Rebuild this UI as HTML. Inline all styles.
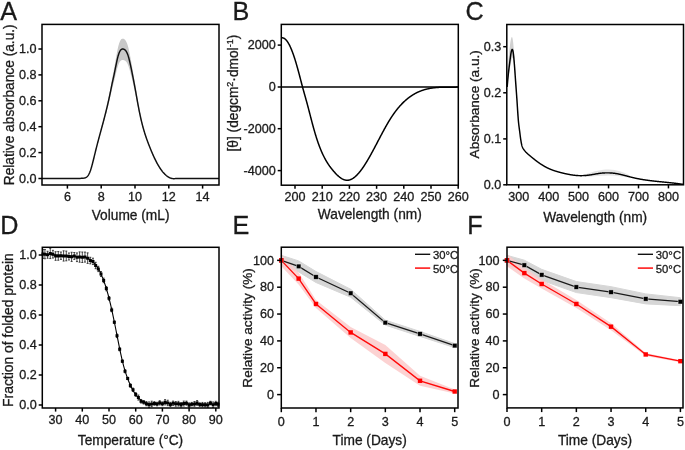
<!DOCTYPE html>
<html><head><meta charset="utf-8"><title>Figure</title>
<style>html,body{margin:0;padding:0;background:#fff;}svg{display:block;will-change:transform;}text{font-family:"Liberation Sans",sans-serif;stroke:#1a1a1a;stroke-width:0.3px;}</style>
</head><body>
<svg width="685" height="450" viewBox="0 0 685 450" font-family="Liberation Sans, sans-serif" fill="#1a1a1a"><text x="0.2" y="19.6" font-size="25.2">A</text>
<path d="M42,178.5 L80,178.53 L80.25,178.46 L80.5,178.39 L80.75,178.34 L81,178.3 L81.25,178.27 L81.5,178.25 L81.75,178.23 L82,178.21 L82.25,178.2 L82.5,178.2 L82.75,178.19 L83,178.18 L83.25,178.17 L83.5,178.15 L83.75,178.13 L84,178.1 L84.25,178.07 L84.5,178.02 L84.75,177.96 L85,177.89 L85.25,177.81 L85.5,177.71 L85.75,177.59 L86,177.45 L86.25,177.3 L86.5,177.12 L86.75,176.92 L87,176.69 L87.25,176.44 L87.5,176.16 L87.75,175.86 L88,175.52 L88.25,175.15 L88.5,174.75 L88.75,174.31 L89,173.84 L89.25,173.33 L89.5,172.78 L89.75,172.19 L90,171.55 L90.25,170.88 L90.5,170.16 L90.75,169.4 L91,168.59 L91.25,167.75 L91.5,166.88 L91.75,165.97 L92,165.04 L92.25,164.08 L92.5,163.1 L92.75,162.09 L93,161.07 L93.25,160.03 L93.5,158.99 L93.75,157.93 L94,156.87 L94.25,155.8 L94.5,154.73 L94.75,153.67 L95,152.61 L95.25,151.56 L95.5,150.51 L95.75,149.48 L96,148.45 L96.25,147.43 L96.5,146.42 L96.75,145.41 L97,144.41 L97.25,143.42 L97.5,142.43 L97.75,141.45 L98,140.47 L98.25,139.49 L98.5,138.52 L98.75,137.56 L99,136.59 L99.25,135.63 L99.5,134.67 L99.75,133.71 L100,132.76 L100.25,131.8 L100.5,130.85 L100.75,129.89 L101,128.93 L101.25,127.98 L101.5,127.02 L101.75,126.06 L102,125.1 L102.25,124.13 L102.5,123.16 L102.75,122.19 L103,121.21 L103.25,120.23 L103.5,119.25 L103.75,118.26 L104,117.26 L104.25,116.26 L104.5,115.25 L104.75,114.23 L105,113.2 L105.25,112.17 L105.5,111.12 L105.75,110.07 L106,109.01 L106.25,107.93 L106.5,106.85 L106.75,105.75 L107,104.64 L107.25,103.51 L107.5,102.37 L107.75,101.22 L108,100.05 L108.25,98.87 L108.5,97.67 L108.75,96.45 L109,95.21 L109.25,93.96 L109.5,92.69 L109.75,91.4 L110,90.08 L110.25,88.75 L110.5,87.4 L110.75,86.03 L111,84.65 L111.25,83.27 L111.5,81.9 L111.75,80.54 L112,79.19 L112.25,77.88 L112.5,76.58 L112.75,75.31 L113,74.04 L113.25,72.77 L113.5,71.5 L113.75,70.22 L114,68.92 L114.25,67.59 L114.5,66.23 L114.75,64.84 L115,63.44 L115.25,62.02 L115.5,60.6 L115.75,59.18 L116,57.77 L116.25,56.37 L116.5,54.99 L116.75,53.65 L117,52.34 L117.25,51.07 L117.5,49.85 L117.75,48.69 L118,47.6 L118.25,46.56 L118.5,45.6 L118.75,44.7 L119,43.86 L119.25,43.1 L119.5,42.4 L119.75,41.77 L120,41.21 L120.25,40.71 L120.5,40.28 L120.75,39.91 L121,39.59 L121.25,39.33 L121.5,39.12 L121.75,38.95 L122,38.83 L122.25,38.74 L122.5,38.69 L122.75,38.67 L123,38.68 L123.25,38.72 L123.5,38.78 L123.75,38.87 L124,38.98 L124.25,39.13 L124.5,39.31 L124.75,39.52 L125,39.77 L125.25,40.06 L125.5,40.39 L125.75,40.76 L126,41.18 L126.25,41.65 L126.5,42.16 L126.75,42.72 L127,43.34 L127.25,44.01 L127.5,44.74 L127.75,45.53 L128,46.38 L128.25,47.28 L128.5,48.26 L128.75,49.29 L129,50.38 L129.25,51.52 L129.5,52.71 L129.75,53.94 L130,55.2 L130.25,56.49 L130.5,57.81 L130.75,59.14 L131,60.48 L131.25,61.84 L131.5,63.22 L131.75,64.6 L132,66 L132.25,67.4 L132.5,68.82 L132.75,70.24 L133,71.68 L133.25,73.12 L133.5,74.57 L133.75,76.02 L134,77.48 L134.25,78.94 L134.5,80.41 L134.75,81.88 L135,83.36 L135.25,84.85 L135.5,86.35 L135.75,87.86 L136,89.38 L136.25,90.92 L136.5,92.45 L136.75,93.99 L137,95.52 L137.25,97.03 L137.5,98.53 L137.75,100.01 L138,101.47 L138.25,102.91 L138.5,104.33 L138.75,105.72 L139,107.09 L139.25,108.44 L139.5,109.76 L139.75,111.06 L140,112.33 L140.25,113.58 L140.5,114.8 L140.75,115.99 L141,117.15 L141.25,118.29 L141.5,119.4 L141.75,120.49 L142,121.55 L142.25,122.59 L142.5,123.6 L142.75,124.59 L143,125.56 L143.25,126.51 L143.5,127.44 L143.75,128.35 L144,129.24 L144.25,130.11 L144.5,130.97 L144.75,131.81 L145,132.63 L145.25,133.44 L145.5,134.23 L145.75,135.01 L146,135.78 L146.25,136.53 L146.5,137.28 L146.75,138.01 L147,138.73 L147.25,139.44 L147.5,140.15 L147.75,140.84 L148,141.53 L148.25,142.21 L148.5,142.89 L148.75,143.56 L149,144.23 L149.25,144.89 L149.5,145.54 L149.75,146.2 L150,146.84 L150.25,147.48 L150.5,148.12 L150.75,148.75 L151,149.38 L151.25,150 L151.5,150.61 L151.75,151.22 L152,151.83 L152.25,152.42 L152.5,153.02 L152.75,153.6 L153,154.19 L153.25,154.76 L153.5,155.33 L153.75,155.89 L154,156.45 L154.25,157 L154.5,157.55 L154.75,158.09 L155,158.62 L155.25,159.15 L155.5,159.66 L155.75,160.18 L156,160.68 L156.25,161.18 L156.5,161.67 L156.75,162.16 L157,162.64 L157.25,163.11 L157.5,163.57 L157.75,164.03 L158,164.48 L158.25,164.93 L158.5,165.36 L158.75,165.79 L159,166.21 L159.25,166.63 L159.5,167.04 L159.75,167.44 L160,167.83 L160.25,168.22 L160.5,168.6 L160.75,168.97 L161,169.34 L161.25,169.7 L161.5,170.05 L161.75,170.4 L162,170.74 L162.25,171.07 L162.5,171.39 L162.75,171.71 L163,172.02 L163.25,172.32 L163.5,172.62 L163.75,172.91 L164,173.19 L164.25,173.47 L164.5,173.73 L164.75,173.99 L165,174.25 L165.25,174.5 L165.5,174.74 L165.75,174.97 L166,175.19 L166.25,175.41 L166.5,175.62 L166.75,175.83 L167,176.03 L167.25,176.22 L167.5,176.4 L167.75,176.58 L168,176.75 L168.25,176.91 L168.5,177.07 L168.75,177.21 L169,177.35 L169.25,177.49 L169.5,177.62 L169.75,177.74 L170,177.85 L170.25,177.96 L170.5,178.05 L170.75,178.15 L171,178.23 L171.25,178.31 L171.5,178.38 L171.75,178.44 L172,178.5 L172.25,178.55 L172.5,178.59 L172.75,178.63 L173,178.65 L173.25,178.68 L173.5,178.69 L173.75,178.7 L174,178.7 L174.25,178.69 L174.5,178.68 L174.75,178.65 L175,178.63 L175.25,178.59 L175.5,178.55 L175.75,178.5 L176,178.44 L219,178.5 L219,178.5 L176,178.44 L175.75,178.5 L175.5,178.54 L175.25,178.58 L175,178.62 L174.75,178.65 L174.5,178.67 L174.25,178.68 L174,178.69 L173.75,178.69 L173.5,178.68 L173.25,178.67 L173,178.65 L172.75,178.62 L172.5,178.59 L172.25,178.55 L172,178.5 L171.75,178.45 L171.5,178.39 L171.25,178.32 L171,178.25 L170.75,178.17 L170.5,178.08 L170.25,177.99 L170,177.89 L169.75,177.78 L169.5,177.67 L169.25,177.55 L169,177.42 L168.75,177.29 L168.5,177.15 L168.25,177 L168,176.85 L167.75,176.69 L167.5,176.52 L167.25,176.35 L167,176.17 L166.75,175.98 L166.5,175.79 L166.25,175.59 L166,175.38 L165.75,175.17 L165.5,174.95 L165.25,174.72 L165,174.49 L164.75,174.25 L164.5,174 L164.25,173.75 L164,173.49 L163.75,173.22 L163.5,172.95 L163.25,172.67 L163,172.38 L162.75,172.09 L162.5,171.79 L162.25,171.49 L162,171.17 L161.75,170.85 L161.5,170.53 L161.25,170.19 L161,169.86 L160.75,169.51 L160.5,169.16 L160.25,168.8 L160,168.43 L159.75,168.06 L159.5,167.68 L159.25,167.3 L159,166.9 L158.75,166.51 L158.5,166.1 L158.25,165.69 L158,165.27 L157.75,164.85 L157.5,164.41 L157.25,163.98 L157,163.53 L156.75,163.08 L156.5,162.62 L156.25,162.16 L156,161.69 L155.75,161.21 L155.5,160.73 L155.25,160.24 L155,159.74 L154.75,159.24 L154.5,158.73 L154.25,158.22 L154,157.7 L153.75,157.17 L153.5,156.64 L153.25,156.1 L153,155.56 L152.75,155.01 L152.5,154.46 L152.25,153.9 L152,153.34 L151.75,152.77 L151.5,152.2 L151.25,151.62 L151,151.04 L150.75,150.45 L150.5,149.86 L150.25,149.26 L150,148.66 L149.75,148.05 L149.5,147.44 L149.25,146.83 L149,146.21 L148.75,145.58 L148.5,144.96 L148.25,144.33 L148,143.69 L147.75,143.05 L147.5,142.4 L147.25,141.75 L147,141.08 L146.75,140.41 L146.5,139.73 L146.25,139.05 L146,138.35 L145.75,137.64 L145.5,136.92 L145.25,136.19 L145,135.45 L144.75,134.69 L144.5,133.92 L144.25,133.14 L144,132.34 L143.75,131.53 L143.5,130.7 L143.25,129.86 L143,129 L142.75,128.12 L142.5,127.23 L142.25,126.31 L142,125.38 L141.75,124.43 L141.5,123.46 L141.25,122.47 L141,121.46 L140.75,120.42 L140.5,119.37 L140.25,118.29 L140,117.19 L139.75,116.07 L139.5,114.94 L139.25,113.78 L139,112.61 L138.75,111.42 L138.5,110.21 L138.25,108.99 L138,107.76 L137.75,106.51 L137.5,105.25 L137.25,103.98 L137,102.7 L136.75,101.41 L136.5,100.12 L136.25,98.84 L136,97.57 L135.75,96.32 L135.5,95.08 L135.25,93.86 L135,92.65 L134.75,91.46 L134.5,90.28 L134.25,89.12 L134,87.96 L133.75,86.81 L133.5,85.68 L133.25,84.55 L133,83.44 L132.75,82.34 L132.5,81.25 L132.25,80.17 L132,79.11 L131.75,78.06 L131.5,77.02 L131.25,76 L131,74.99 L130.75,74 L130.5,73.02 L130.25,72.06 L130,71.12 L129.75,70.2 L129.5,69.32 L129.25,68.47 L129,67.66 L128.75,66.89 L128.5,66.17 L128.25,65.5 L128,64.88 L127.75,64.31 L127.5,63.78 L127.25,63.31 L127,62.87 L126.75,62.48 L126.5,62.12 L126.25,61.8 L126,61.52 L125.75,61.27 L125.5,61.04 L125.25,60.85 L125,60.68 L124.75,60.54 L124.5,60.42 L124.25,60.32 L124,60.23 L123.75,60.17 L123.5,60.11 L123.25,60.07 L123,60.04 L122.75,60.03 L122.5,60.02 L122.25,60.04 L122,60.07 L121.75,60.13 L121.5,60.21 L121.25,60.32 L121,60.47 L120.75,60.65 L120.5,60.88 L120.25,61.14 L120,61.45 L119.75,61.81 L119.5,62.23 L119.25,62.69 L119,63.21 L118.75,63.78 L118.5,64.4 L118.25,65.07 L118,65.8 L117.75,66.58 L117.5,67.41 L117.25,68.29 L117,69.21 L116.75,70.17 L116.5,71.16 L116.25,72.17 L116,73.2 L115.75,74.25 L115.5,75.31 L115.25,76.38 L115,77.44 L114.75,78.49 L114.5,79.53 L114.25,80.55 L114,81.55 L113.75,82.53 L113.5,83.49 L113.25,84.45 L113,85.41 L112.75,86.37 L112.5,87.35 L112.25,88.35 L112,89.37 L111.75,90.43 L111.5,91.51 L111.25,92.6 L111,93.71 L110.75,94.82 L110.5,95.92 L110.25,97.02 L110,98.11 L109.75,99.18 L109.5,100.24 L109.25,101.3 L109,102.33 L108.75,103.36 L108.5,104.38 L108.25,105.39 L108,106.38 L107.75,107.37 L107.5,108.35 L107.25,109.32 L107,110.28 L106.75,111.24 L106.5,112.19 L106.25,113.13 L106,114.06 L105.75,114.99 L105.5,115.91 L105.25,116.83 L105,117.74 L104.75,118.65 L104.5,119.55 L104.25,120.45 L104,121.35 L103.75,122.24 L103.5,123.13 L103.25,124.02 L103,124.91 L102.75,125.79 L102.5,126.68 L102.25,127.56 L102,128.44 L101.75,129.32 L101.5,130.2 L101.25,131.08 L101,131.96 L100.75,132.85 L100.5,133.73 L100.25,134.61 L100,135.5 L99.75,136.39 L99.5,137.28 L99.25,138.17 L99,139.06 L98.75,139.96 L98.5,140.87 L98.25,141.77 L98,142.68 L97.75,143.6 L97.5,144.52 L97.25,145.45 L97,146.38 L96.75,147.32 L96.5,148.26 L96.25,149.21 L96,150.17 L95.75,151.14 L95.5,152.11 L95.25,153.09 L95,154.08 L94.75,155.08 L94.5,156.08 L94.25,157.09 L94,158.09 L93.75,159.09 L93.5,160.09 L93.25,161.08 L93,162.06 L92.75,163.02 L92.5,163.97 L92.25,164.89 L92,165.8 L91.75,166.68 L91.5,167.54 L91.25,168.36 L91,169.15 L90.75,169.91 L90.5,170.63 L90.25,171.31 L90,171.95 L89.75,172.54 L89.5,173.1 L89.25,173.62 L89,174.1 L88.75,174.55 L88.5,174.96 L88.25,175.34 L88,175.69 L87.75,176 L87.5,176.29 L87.25,176.56 L87,176.79 L86.75,177.01 L86.5,177.2 L86.25,177.36 L86,177.51 L85.75,177.64 L85.5,177.75 L85.25,177.85 L85,177.93 L84.75,177.99 L84.5,178.05 L84.25,178.09 L84,178.12 L83.75,178.15 L83.5,178.17 L83.25,178.19 L83,178.2 L82.75,178.21 L82.5,178.21 L82.25,178.22 L82,178.23 L81.75,178.24 L81.5,178.26 L81.25,178.28 L81,178.31 L80.75,178.35 L80.5,178.4 L80.25,178.46 L80,178.53 L42,178.5 Z" fill="#c8c8c8" stroke="none"/>
<path d="M42,178.5 L80,178.53 L80.25,178.46 L80.5,178.4 L80.75,178.35 L81,178.31 L81.25,178.28 L81.5,178.25 L81.75,178.23 L82,178.22 L82.25,178.21 L82.5,178.2 L82.75,178.2 L83,178.19 L83.25,178.18 L83.5,178.16 L83.75,178.14 L84,178.11 L84.25,178.08 L84.5,178.03 L84.75,177.98 L85,177.91 L85.25,177.83 L85.5,177.73 L85.75,177.61 L86,177.48 L86.25,177.33 L86.5,177.16 L86.75,176.96 L87,176.74 L87.25,176.5 L87.5,176.23 L87.75,175.93 L88,175.6 L88.25,175.24 L88.5,174.85 L88.75,174.42 L89,173.96 L89.25,173.47 L89.5,172.93 L89.75,172.36 L90,171.74 L90.25,171.09 L90.5,170.39 L90.75,169.65 L91,168.86 L91.25,168.05 L91.5,167.2 L91.75,166.32 L92,165.41 L92.25,164.47 L92.5,163.52 L92.75,162.54 L93,161.55 L93.25,160.54 L93.5,159.52 L93.75,158.49 L94,157.46 L94.25,156.42 L94.5,155.39 L94.75,154.35 L95,153.32 L95.25,152.3 L95.5,151.29 L95.75,150.28 L96,149.28 L96.25,148.29 L96.5,147.31 L96.75,146.34 L97,145.37 L97.25,144.4 L97.5,143.44 L97.75,142.49 L98,141.54 L98.25,140.6 L98.5,139.66 L98.75,138.72 L99,137.79 L99.25,136.86 L99.5,135.93 L99.75,135.01 L100,134.09 L100.25,133.16 L100.5,132.24 L100.75,131.32 L101,130.4 L101.25,129.48 L101.5,128.56 L101.75,127.64 L102,126.72 L102.25,125.79 L102.5,124.87 L102.75,123.94 L103,123.01 L103.25,122.07 L103.5,121.13 L103.75,120.19 L104,119.24 L104.25,118.29 L104.5,117.33 L104.75,116.37 L105,115.4 L105.25,114.43 L105.5,113.45 L105.75,112.46 L106,111.46 L106.25,110.45 L106.5,109.44 L106.75,108.41 L107,107.37 L107.25,106.33 L107.5,105.27 L107.75,104.2 L108,103.12 L108.25,102.03 L108.5,100.92 L108.75,99.8 L109,98.67 L109.25,97.52 L109.5,96.35 L109.75,95.17 L110,93.98 L110.25,92.76 L110.5,91.53 L110.75,90.29 L111,89.04 L111.25,87.8 L111.5,86.56 L111.75,85.33 L112,84.13 L112.25,82.95 L112.5,81.8 L112.75,80.67 L113,79.55 L113.25,78.43 L113.5,77.32 L113.75,76.19 L114,75.04 L114.25,73.87 L114.5,72.68 L114.75,71.46 L115,70.22 L115.25,68.98 L115.5,67.73 L115.75,66.49 L116,65.25 L116.25,64.03 L116.5,62.83 L116.75,61.66 L117,60.52 L117.25,59.42 L117.5,58.37 L117.75,57.36 L118,56.42 L118.25,55.54 L118.5,54.71 L118.75,53.95 L119,53.24 L119.25,52.6 L119.5,52.01 L119.75,51.49 L120,51.02 L120.25,50.62 L120.5,50.26 L120.75,49.97 L121,49.71 L121.25,49.51 L121.5,49.34 L121.75,49.22 L122,49.13 L122.25,49.07 L122.5,49.03 L122.75,49.03 L123,49.04 L123.25,49.07 L123.5,49.12 L123.75,49.19 L124,49.28 L124.25,49.4 L124.5,49.54 L124.75,49.71 L125,49.91 L125.25,50.14 L125.5,50.4 L125.75,50.7 L126,51.04 L126.25,51.42 L126.5,51.84 L126.75,52.3 L127,52.81 L127.25,53.37 L127.5,53.97 L127.75,54.63 L128,55.35 L128.25,56.11 L128.5,56.94 L128.75,57.82 L129,58.76 L129.25,59.74 L129.5,60.76 L129.75,61.82 L130,62.92 L130.25,64.04 L130.5,65.18 L130.75,66.34 L131,67.52 L131.25,68.71 L131.5,69.91 L131.75,71.12 L132,72.35 L132.25,73.59 L132.5,74.85 L132.75,76.11 L133,77.38 L133.25,78.66 L133.5,79.95 L133.75,81.25 L134,82.56 L134.25,83.87 L134.5,85.2 L134.75,86.53 L135,87.87 L135.25,89.22 L135.5,90.58 L135.75,91.96 L136,93.35 L136.25,94.76 L136.5,96.17 L136.75,97.59 L137,99 L137.25,100.4 L137.5,101.79 L137.75,103.16 L138,104.52 L138.25,105.86 L138.5,107.18 L138.75,108.48 L139,109.77 L139.25,111.03 L139.5,112.27 L139.75,113.49 L140,114.69 L140.25,115.86 L140.5,117.01 L140.75,118.14 L141,119.24 L141.25,120.32 L141.5,121.37 L141.75,122.4 L142,123.41 L142.25,124.39 L142.5,125.36 L142.75,126.3 L143,127.23 L143.25,128.14 L143.5,129.02 L143.75,129.89 L144,130.74 L144.25,131.58 L144.5,132.4 L144.75,133.21 L145,134 L145.25,134.77 L145.5,135.54 L145.75,136.29 L146,137.02 L146.25,137.75 L146.5,138.47 L146.75,139.17 L147,139.87 L147.25,140.56 L147.5,141.24 L147.75,141.91 L148,142.58 L148.25,143.24 L148.5,143.89 L148.75,144.54 L149,145.19 L149.25,145.83 L149.5,146.46 L149.75,147.09 L150,147.72 L150.25,148.34 L150.5,148.96 L150.75,149.57 L151,150.18 L151.25,150.78 L151.5,151.38 L151.75,151.97 L152,152.56 L152.25,153.14 L152.5,153.72 L152.75,154.29 L153,154.85 L153.25,155.41 L153.5,155.97 L153.75,156.51 L154,157.06 L154.25,157.59 L154.5,158.12 L154.75,158.65 L155,159.16 L155.25,159.67 L155.5,160.18 L155.75,160.68 L156,161.17 L156.25,161.65 L156.5,162.13 L156.75,162.61 L157,163.07 L157.25,163.53 L157.5,163.98 L157.75,164.43 L158,164.86 L158.25,165.3 L158.5,165.72 L158.75,166.14 L159,166.55 L159.25,166.95 L159.5,167.35 L159.75,167.74 L160,168.12 L160.25,168.5 L160.5,168.87 L160.75,169.23 L161,169.59 L161.25,169.94 L161.5,170.28 L161.75,170.62 L162,170.95 L162.25,171.27 L162.5,171.59 L162.75,171.89 L163,172.2 L163.25,172.49 L163.5,172.78 L163.75,173.06 L164,173.33 L164.25,173.6 L164.5,173.86 L164.75,174.12 L165,174.36 L165.25,174.6 L165.5,174.84 L165.75,175.06 L166,175.28 L166.25,175.5 L166.5,175.7 L166.75,175.9 L167,176.09 L167.25,176.28 L167.5,176.46 L167.75,176.63 L168,176.8 L168.25,176.95 L168.5,177.1 L168.75,177.25 L169,177.39 L169.25,177.52 L169.5,177.64 L169.75,177.76 L170,177.87 L170.25,177.97 L170.5,178.07 L170.75,178.16 L171,178.24 L171.25,178.31 L171.5,178.38 L171.75,178.44 L172,178.5 L172.25,178.55 L172.5,178.59 L172.75,178.62 L173,178.65 L173.25,178.67 L173.5,178.68 L173.75,178.69 L174,178.69 L174.25,178.68 L174.5,178.67 L174.75,178.65 L175,178.62 L175.25,178.59 L175.5,178.55 L175.75,178.5 L176,178.44 L219,178.5" fill="none" stroke="#111" stroke-width="1.45" stroke-linejoin="round"/>
<rect x="42" y="24.4" width="177" height="160.6" fill="none" stroke="#000" stroke-width="1.5"/>
<line x1="38.4" y1="178.5" x2="42" y2="178.5" stroke="#000" stroke-width="1.5"/>
<text x="36.4" y="182.7" text-anchor="end" font-size="12.6">0.0</text>
<line x1="38.4" y1="152.6" x2="42" y2="152.6" stroke="#000" stroke-width="1.5"/>
<text x="36.4" y="156.8" text-anchor="end" font-size="12.6">0.2</text>
<line x1="38.4" y1="126.7" x2="42" y2="126.7" stroke="#000" stroke-width="1.5"/>
<text x="36.4" y="130.9" text-anchor="end" font-size="12.6">0.4</text>
<line x1="38.4" y1="100.8" x2="42" y2="100.8" stroke="#000" stroke-width="1.5"/>
<text x="36.4" y="105" text-anchor="end" font-size="12.6">0.6</text>
<line x1="38.4" y1="74.9" x2="42" y2="74.9" stroke="#000" stroke-width="1.5"/>
<text x="36.4" y="79.1" text-anchor="end" font-size="12.6">0.8</text>
<line x1="38.4" y1="49" x2="42" y2="49" stroke="#000" stroke-width="1.5"/>
<text x="36.4" y="53.2" text-anchor="end" font-size="12.6">1.0</text>
<line x1="67.4" y1="185" x2="67.4" y2="188.6" stroke="#000" stroke-width="1.5"/>
<text x="67.4" y="201.1" text-anchor="middle" font-size="12.6">6</text>
<line x1="101.2" y1="185" x2="101.2" y2="188.6" stroke="#000" stroke-width="1.5"/>
<text x="101.2" y="201.1" text-anchor="middle" font-size="12.6">8</text>
<line x1="135" y1="185" x2="135" y2="188.6" stroke="#000" stroke-width="1.5"/>
<text x="135" y="201.1" text-anchor="middle" font-size="12.6">10</text>
<line x1="168.8" y1="185" x2="168.8" y2="188.6" stroke="#000" stroke-width="1.5"/>
<text x="168.8" y="201.1" text-anchor="middle" font-size="12.6">12</text>
<line x1="202.6" y1="185" x2="202.6" y2="188.6" stroke="#000" stroke-width="1.5"/>
<text x="202.6" y="201.1" text-anchor="middle" font-size="12.6">14</text>
<text x="130.6" y="220.2" text-anchor="middle" font-size="13.72">Volume (mL)</text>
<text transform="translate(13.6,104.8) rotate(-90)" text-anchor="middle" font-size="13.72">Relative absorbance (a.u.)</text>
<text x="232.6" y="19.6" font-size="25.2">B</text>
<line x1="281.3" y1="87.1" x2="458.3" y2="87.1" stroke="#000" stroke-width="1.5"/>
<path d="M281.6,37.9 L281.85,37.86 L282.1,37.84 L282.35,37.84 L282.6,37.86 L282.85,37.89 L283.1,37.95 L283.35,38.02 L283.6,38.11 L283.85,38.22 L284.1,38.35 L284.35,38.49 L284.6,38.65 L284.85,38.83 L285.1,39.03 L285.35,39.25 L285.6,39.48 L285.85,39.73 L286.1,39.99 L286.35,40.28 L286.6,40.58 L286.85,40.89 L287.1,41.23 L287.35,41.57 L287.6,41.94 L287.85,42.32 L288.1,42.72 L288.35,43.13 L288.6,43.56 L288.85,44.01 L289.1,44.47 L289.35,44.94 L289.6,45.43 L289.85,45.94 L290.1,46.46 L290.35,47 L290.6,47.55 L290.85,48.11 L291.1,48.69 L291.35,49.29 L291.6,49.9 L291.85,50.52 L292.1,51.16 L292.35,51.81 L292.6,52.47 L292.85,53.15 L293.1,53.84 L293.35,54.55 L293.6,55.27 L293.85,56 L294.1,56.74 L294.35,57.5 L294.6,58.27 L294.85,59.05 L295.1,59.85 L295.35,60.65 L295.6,61.47 L295.85,62.3 L296.1,63.14 L296.35,63.99 L296.6,64.85 L296.85,65.72 L297.1,66.6 L297.35,67.48 L297.6,68.38 L297.85,69.28 L298.1,70.19 L298.35,71.11 L298.6,72.03 L298.85,72.96 L299.1,73.9 L299.35,74.84 L299.6,75.79 L299.85,76.74 L300.1,77.7 L300.35,78.66 L300.6,79.62 L300.85,80.59 L301.1,81.56 L301.35,82.52 L301.6,83.49 L301.85,84.44 L302.1,85.39 L302.35,86.33 L302.6,87.26 L302.85,88.19 L303.1,89.1 L303.35,90.01 L303.6,90.91 L303.85,91.81 L304.1,92.71 L304.35,93.6 L304.6,94.49 L304.85,95.38 L305.1,96.26 L305.35,97.15 L305.6,98.04 L305.85,98.94 L306.1,99.83 L306.35,100.73 L306.6,101.64 L306.85,102.55 L307.1,103.47 L307.35,104.39 L307.6,105.32 L307.85,106.26 L308.1,107.21 L308.35,108.16 L308.6,109.11 L308.85,110.07 L309.1,111.03 L309.35,112 L309.6,112.96 L309.85,113.93 L310.1,114.9 L310.35,115.86 L310.6,116.83 L310.85,117.79 L311.1,118.76 L311.35,119.72 L311.6,120.67 L311.85,121.63 L312.1,122.57 L312.35,123.52 L312.6,124.45 L312.85,125.38 L313.1,126.3 L313.35,127.21 L313.6,128.12 L313.85,129.01 L314.1,129.9 L314.35,130.77 L314.6,131.64 L314.85,132.49 L315.1,133.34 L315.35,134.17 L315.6,135 L315.85,135.81 L316.1,136.61 L316.35,137.4 L316.6,138.19 L316.85,138.96 L317.1,139.72 L317.35,140.47 L317.6,141.22 L317.85,141.95 L318.1,142.67 L318.35,143.38 L318.6,144.08 L318.85,144.77 L319.1,145.45 L319.35,146.12 L319.6,146.78 L319.85,147.43 L320.1,148.07 L320.35,148.7 L320.6,149.32 L320.85,149.93 L321.1,150.53 L321.35,151.12 L321.6,151.7 L321.85,152.28 L322.1,152.84 L322.35,153.39 L322.6,153.94 L322.85,154.47 L323.1,155 L323.35,155.52 L323.6,156.03 L323.85,156.53 L324.1,157.02 L324.35,157.51 L324.6,157.99 L324.85,158.46 L325.1,158.92 L325.35,159.37 L325.6,159.82 L325.85,160.26 L326.1,160.7 L326.35,161.13 L326.6,161.55 L326.85,161.96 L327.1,162.37 L327.35,162.77 L327.6,163.16 L327.85,163.55 L328.1,163.94 L328.35,164.32 L328.6,164.69 L328.85,165.06 L329.1,165.42 L329.35,165.77 L329.6,166.13 L329.85,166.47 L330.1,166.81 L330.35,167.15 L330.6,167.48 L330.85,167.81 L331.1,168.14 L331.35,168.46 L331.6,168.78 L331.85,169.09 L332.1,169.4 L332.35,169.7 L332.6,170.01 L332.85,170.31 L333.1,170.6 L333.35,170.9 L333.6,171.19 L333.85,171.48 L334.1,171.76 L334.35,172.04 L334.6,172.32 L334.85,172.6 L335.1,172.87 L335.35,173.14 L335.6,173.41 L335.85,173.67 L336.1,173.93 L336.35,174.18 L336.6,174.44 L336.85,174.68 L337.1,174.93 L337.35,175.17 L337.6,175.4 L337.85,175.63 L338.1,175.86 L338.35,176.08 L338.6,176.3 L338.85,176.51 L339.1,176.72 L339.35,176.92 L339.6,177.12 L339.85,177.31 L340.1,177.5 L340.35,177.68 L340.6,177.86 L340.85,178.03 L341.1,178.2 L341.35,178.36 L341.6,178.51 L341.85,178.66 L342.1,178.8 L342.35,178.94 L342.6,179.07 L342.85,179.2 L343.1,179.32 L343.35,179.43 L343.6,179.53 L343.85,179.63 L344.1,179.72 L344.35,179.81 L344.6,179.89 L344.85,179.96 L345.1,180.03 L345.35,180.08 L345.6,180.13 L345.85,180.18 L346.1,180.21 L346.35,180.24 L346.6,180.26 L346.85,180.27 L347.1,180.28 L347.35,180.28 L347.6,180.27 L347.85,180.25 L348.1,180.22 L348.35,180.19 L348.6,180.15 L348.85,180.1 L349.1,180.05 L349.35,179.99 L349.6,179.92 L349.85,179.84 L350.1,179.76 L350.35,179.67 L350.6,179.57 L350.85,179.47 L351.1,179.36 L351.35,179.24 L351.6,179.12 L351.85,178.99 L352.1,178.85 L352.35,178.71 L352.6,178.56 L352.85,178.41 L353.1,178.25 L353.35,178.08 L353.6,177.9 L353.85,177.72 L354.1,177.54 L354.35,177.34 L354.6,177.15 L354.85,176.94 L355.1,176.73 L355.35,176.52 L355.6,176.3 L355.85,176.07 L356.1,175.84 L356.35,175.6 L356.6,175.36 L356.85,175.11 L357.1,174.85 L357.35,174.6 L357.6,174.33 L357.85,174.06 L358.1,173.79 L358.35,173.51 L358.6,173.23 L358.85,172.94 L359.1,172.64 L359.35,172.34 L359.6,172.04 L359.85,171.73 L360.1,171.42 L360.35,171.1 L360.6,170.78 L360.85,170.46 L361.1,170.13 L361.35,169.79 L361.6,169.45 L361.85,169.11 L362.1,168.77 L362.35,168.41 L362.6,168.06 L362.85,167.7 L363.1,167.34 L363.35,166.97 L363.6,166.6 L363.85,166.23 L364.1,165.85 L364.35,165.47 L364.6,165.09 L364.85,164.7 L365.1,164.31 L365.35,163.92 L365.6,163.52 L365.85,163.12 L366.1,162.72 L366.35,162.31 L366.6,161.9 L366.85,161.49 L367.1,161.07 L367.35,160.65 L367.6,160.23 L367.85,159.81 L368.1,159.38 L368.35,158.96 L368.6,158.52 L368.85,158.09 L369.1,157.65 L369.35,157.22 L369.6,156.78 L369.85,156.33 L370.1,155.89 L370.35,155.44 L370.6,154.99 L370.85,154.54 L371.1,154.09 L371.35,153.64 L371.6,153.18 L371.85,152.72 L372.1,152.26 L372.35,151.8 L372.6,151.34 L372.85,150.88 L373.1,150.41 L373.35,149.95 L373.6,149.48 L373.85,149.01 L374.1,148.54 L374.35,148.07 L374.6,147.6 L374.85,147.13 L375.1,146.66 L375.35,146.18 L375.6,145.71 L375.85,145.23 L376.1,144.76 L376.35,144.28 L376.6,143.8 L376.85,143.33 L377.1,142.85 L377.35,142.37 L377.6,141.9 L377.85,141.42 L378.1,140.94 L378.35,140.46 L378.6,139.99 L378.85,139.51 L379.1,139.03 L379.35,138.56 L379.6,138.08 L379.85,137.6 L380.1,137.13 L380.35,136.65 L380.6,136.18 L380.85,135.71 L381.1,135.23 L381.35,134.76 L381.6,134.29 L381.85,133.82 L382.1,133.35 L382.35,132.88 L382.6,132.42 L382.85,131.95 L383.1,131.49 L383.35,131.03 L383.6,130.56 L383.85,130.1 L384.1,129.65 L384.35,129.19 L384.6,128.73 L384.85,128.28 L385.1,127.83 L385.35,127.38 L385.6,126.93 L385.85,126.49 L386.1,126.04 L386.35,125.6 L386.6,125.16 L386.85,124.72 L387.1,124.29 L387.35,123.86 L387.6,123.43 L387.85,123 L388.1,122.57 L388.35,122.15 L388.6,121.73 L388.85,121.32 L389.1,120.9 L389.35,120.49 L389.6,120.08 L389.85,119.68 L390.1,119.28 L390.35,118.88 L390.6,118.48 L390.85,118.09 L391.1,117.7 L391.35,117.32 L391.6,116.93 L391.85,116.55 L392.1,116.18 L392.35,115.81 L392.6,115.44 L392.85,115.07 L393.1,114.71 L393.35,114.35 L393.6,113.99 L393.85,113.64 L394.1,113.29 L394.35,112.94 L394.6,112.6 L394.85,112.25 L395.1,111.92 L395.35,111.58 L395.6,111.25 L395.85,110.92 L396.1,110.59 L396.35,110.27 L396.6,109.95 L396.85,109.63 L397.1,109.32 L397.35,109.01 L397.6,108.7 L397.85,108.39 L398.1,108.09 L398.35,107.79 L398.6,107.5 L398.85,107.2 L399.1,106.91 L399.35,106.62 L399.6,106.34 L399.85,106.06 L400.1,105.78 L400.35,105.5 L400.6,105.22 L400.85,104.95 L401.1,104.68 L401.35,104.42 L401.6,104.15 L401.85,103.89 L402.1,103.64 L402.35,103.38 L402.6,103.13 L402.85,102.88 L403.1,102.63 L403.35,102.39 L403.6,102.14 L403.85,101.9 L404.1,101.67 L404.35,101.43 L404.6,101.2 L404.85,100.97 L405.1,100.74 L405.35,100.52 L405.6,100.3 L405.85,100.08 L406.1,99.86 L406.35,99.65 L406.6,99.44 L406.85,99.23 L407.1,99.02 L407.35,98.81 L407.6,98.61 L407.85,98.41 L408.1,98.21 L408.35,98.02 L408.6,97.82 L408.85,97.63 L409.1,97.44 L409.35,97.26 L409.6,97.07 L409.85,96.89 L410.1,96.71 L410.35,96.54 L410.6,96.36 L410.85,96.19 L411.1,96.02 L411.35,95.85 L411.6,95.68 L411.85,95.52 L412.1,95.36 L412.35,95.2 L412.6,95.04 L412.85,94.88 L413.1,94.73 L413.35,94.58 L413.6,94.43 L413.85,94.28 L414.1,94.13 L414.35,93.99 L414.6,93.85 L414.85,93.71 L415.1,93.57 L415.35,93.43 L415.6,93.3 L415.85,93.17 L416.1,93.04 L416.35,92.91 L416.6,92.78 L416.85,92.66 L417.1,92.54 L417.35,92.42 L417.6,92.3 L417.85,92.18 L418.1,92.06 L418.35,91.95 L418.6,91.84 L418.85,91.73 L419.1,91.62 L419.35,91.51 L419.6,91.41 L419.85,91.31 L420.1,91.2 L420.35,91.1 L420.6,91.01 L420.85,90.91 L421.1,90.82 L421.35,90.72 L421.6,90.63 L421.85,90.54 L422.1,90.45 L422.35,90.36 L422.6,90.28 L422.85,90.2 L423.1,90.11 L423.35,90.03 L423.6,89.95 L423.85,89.87 L424.1,89.8 L424.35,89.72 L424.6,89.65 L424.85,89.58 L425.1,89.51 L425.35,89.44 L425.6,89.37 L425.85,89.3 L426.1,89.24 L426.35,89.17 L426.6,89.11 L426.85,89.05 L427.1,88.99 L427.35,88.93 L427.6,88.87 L427.85,88.82 L428.1,88.76 L428.35,88.71 L428.6,88.66 L428.85,88.6 L429.1,88.55 L429.35,88.51 L429.6,88.46 L429.85,88.41 L430.1,88.37 L430.35,88.32 L430.6,88.28 L430.85,88.24 L431.1,88.19 L431.35,88.15 L431.6,88.11 L431.85,88.08 L432.1,88.04 L432.35,88 L432.6,87.97 L432.85,87.93 L433.1,87.9 L433.35,87.87 L433.6,87.84 L433.85,87.81 L434.1,87.78 L434.35,87.75 L434.6,87.72 L434.85,87.7 L435.1,87.67 L435.35,87.65 L435.6,87.62 L435.85,87.6 L436.1,87.57 L436.35,87.55 L436.6,87.53 L436.85,87.51 L437.1,87.49 L437.35,87.47 L437.6,87.46 L437.85,87.44 L438.1,87.42 L438.35,87.41 L438.6,87.39 L438.85,87.37 L439.1,87.36 L439.35,87.35 L439.6,87.33 L439.85,87.32 L440.1,87.31 L440.35,87.3 L440.6,87.29 L440.85,87.28 L441.1,87.27 L441.35,87.26 L441.6,87.25 L441.85,87.24 L442.1,87.24 L442.35,87.23 L442.6,87.22 L442.85,87.22 L443.1,87.21 L443.35,87.2 L443.6,87.2 L443.85,87.19 L444.1,87.19 L444.35,87.19 L444.6,87.18 L444.85,87.18 L445.1,87.18 L445.35,87.17 L445.6,87.17 L445.85,87.17 L446.1,87.17 L446.35,87.16 L446.6,87.16 L446.85,87.16 L447.1,87.16 L447.35,87.16 L447.6,87.16 L447.85,87.16 L448.1,87.16 L448.35,87.16 L448.6,87.16 L448.85,87.16 L449.1,87.16 L449.35,87.16 L449.6,87.16 L449.85,87.15 L450.1,87.15 L450.35,87.15 L450.6,87.15 L450.85,87.15 L451.1,87.15 L451.35,87.15 L451.6,87.15 L451.85,87.15 L452.1,87.15 L452.35,87.15 L452.6,87.15 L452.85,87.15 L453.1,87.15 L453.35,87.15 L453.6,87.15 L453.85,87.15 L454.1,87.15 L454.35,87.14 L454.6,87.14 L454.85,87.14 L455.1,87.14 L455.35,87.14 L455.6,87.13 L455.85,87.13 L456.1,87.13 L456.35,87.12 L456.6,87.12 L456.85,87.11 L457.1,87.11 L457.35,87.1 L457.6,87.1 L457.85,87.09 L458,87.09" fill="none" stroke="#000" stroke-width="1.5" stroke-linejoin="round"/>
<rect x="281.3" y="24.4" width="177" height="160.8" fill="none" stroke="#000" stroke-width="1.5"/>
<line x1="277.7" y1="45.1" x2="281.3" y2="45.1" stroke="#000" stroke-width="1.5"/>
<text x="275.7" y="49.3" text-anchor="end" font-size="12.6">2000</text>
<line x1="277.7" y1="87" x2="281.3" y2="87" stroke="#000" stroke-width="1.5"/>
<text x="275.7" y="91.2" text-anchor="end" font-size="12.6">0</text>
<line x1="277.7" y1="128.7" x2="281.3" y2="128.7" stroke="#000" stroke-width="1.5"/>
<text x="275.7" y="132.9" text-anchor="end" font-size="12.6">-2000</text>
<line x1="277.7" y1="170.6" x2="281.3" y2="170.6" stroke="#000" stroke-width="1.5"/>
<text x="275.7" y="174.8" text-anchor="end" font-size="12.6">-4000</text>
<line x1="295" y1="185.2" x2="295" y2="188.8" stroke="#000" stroke-width="1.5"/>
<text x="295" y="201.1" text-anchor="middle" font-size="12.6">200</text>
<line x1="322.2" y1="185.2" x2="322.2" y2="188.8" stroke="#000" stroke-width="1.5"/>
<text x="322.2" y="201.1" text-anchor="middle" font-size="12.6">210</text>
<line x1="349.4" y1="185.2" x2="349.4" y2="188.8" stroke="#000" stroke-width="1.5"/>
<text x="349.4" y="201.1" text-anchor="middle" font-size="12.6">220</text>
<line x1="376.6" y1="185.2" x2="376.6" y2="188.8" stroke="#000" stroke-width="1.5"/>
<text x="376.6" y="201.1" text-anchor="middle" font-size="12.6">230</text>
<line x1="403.8" y1="185.2" x2="403.8" y2="188.8" stroke="#000" stroke-width="1.5"/>
<text x="403.8" y="201.1" text-anchor="middle" font-size="12.6">240</text>
<line x1="431" y1="185.2" x2="431" y2="188.8" stroke="#000" stroke-width="1.5"/>
<text x="431" y="201.1" text-anchor="middle" font-size="12.6">250</text>
<line x1="458.2" y1="185.2" x2="458.2" y2="188.8" stroke="#000" stroke-width="1.5"/>
<text x="458.2" y="201.1" text-anchor="middle" font-size="12.6">260</text>
<text x="369.8" y="219.3" text-anchor="middle" font-size="13.72">Wavelength (nm)</text>
<text transform="translate(238.2,93.1) rotate(-90)" text-anchor="middle" font-size="13.72">[θ] (degcm<tspan font-size="9" dy="-5">2</tspan><tspan dy="5">·dmol</tspan><tspan font-size="9" dy="-5">-1</tspan><tspan dy="5">)</tspan></text>
<text x="465.6" y="19.6" font-size="25.2">C</text>
<path d="M507,76 C507.25,73.33 508,65.17 508.5,60 C509,54.83 509.48,48.8 510,45 C510.52,41.2 511.1,37.87 511.6,37.2 C512.1,36.53 512.52,37.53 513,41 C513.48,44.47 514,51.5 514.5,58 C515,64.5 515.5,72.33 516,80 C516.5,87.67 517,97.33 517.5,104 C518,110.67 518.75,117.33 519,120 L519,126 519,126 C518.73,123.33 517.95,118 517.4,110 C516.85,102 516.33,86 515.7,78 C515.07,70 514.2,65.33 513.6,62 C513,58.67 512.7,57 512.1,58 C511.5,59 510.68,64.33 510,68 C509.32,71.67 508.5,77 508,80 C507.5,83 507.17,85 507,86 Z" fill="#d0d0d0" stroke="none"/>
<path d="M585,174.5 C595,171 602,169.5 609,169.6 C617,170 623,172 630,175.5 L630,178 C623,176.5 616,175.5 609,175.6 C601,175.7 594,176.5 585,177 Z" fill="#e4e4e4"/>
<path d="M507.2,86.9 L507.4,84.27 L507.6,81.83 L507.8,79.54 L508,77.4 L508.2,75.38 L508.4,73.48 L508.6,71.67 L508.8,69.94 L509,68.28 L509.2,66.66 L509.4,65.08 L509.6,63.51 L509.8,61.94 L510,60.37 L510.2,58.81 L510.4,57.28 L510.6,55.83 L510.8,54.47 L511,53.23 L511.2,52.15 L511.4,51.23 L511.6,50.48 L511.8,49.93 L512,49.57 L512.2,49.44 L512.4,49.53 L512.6,49.87 L512.8,50.46 L513,51.32 L513.2,52.46 L513.4,53.89 L513.6,55.6 L513.8,57.57 L514,59.76 L514.2,62.13 L514.4,64.66 L514.6,67.32 L514.8,70.06 L515,72.87 L515.2,75.7 L515.4,78.53 L515.6,81.36 L515.8,84.15 L516,86.9 L516.2,89.6 L516.4,92.29 L516.6,95.02 L516.8,97.84 L517,100.8 L517.2,103.87 L517.4,107.01 L517.6,110.12 L517.8,113.15 L518,116.01 L518.2,118.64 L518.4,120.96 L518.6,122.98 L518.8,124.75 L519,126.36 L519.2,127.86 L519.4,129.33 L519.6,130.84 L519.8,132.4 L520,133.98 L520.2,135.55 L520.4,137.09 L520.6,138.55 L520.8,139.91 L521,141.19 L521.2,142.35 L521.4,143.42 L521.6,144.37 L521.8,145.2 L522,145.92 L522.2,146.54 L522.4,147.07 L522.6,147.54 L522.8,147.94 L523,148.3 L523.2,148.63 L523.4,148.95 L523.6,149.25 L523.8,149.54 L524,149.82 L524.2,150.09 L524.4,150.36 L524.6,150.62 L524.8,150.86 L525,151.11 L525.2,151.34 L525.4,151.57 L525.6,151.79 L525.8,152 L526,152.21 L526.2,152.41 L526.4,152.61 L526.6,152.81 L526.8,153 L527,153.19 L527.2,153.37 L527.4,153.55 L527.6,153.73 L527.8,153.91 L528,154.08 L528.2,154.26 L528.4,154.43 L528.6,154.6 L528.8,154.77 L529,154.94 L529.2,155.11 L529.4,155.29 L529.6,155.46 L529.8,155.63 L530,155.79 L530.2,155.96 L530.4,156.13 L530.6,156.3 L530.8,156.47 L531,156.64 L531.2,156.8 L531.4,156.97 L531.6,157.14 L531.8,157.3 L532,157.47 L532.2,157.63 L532.4,157.79 L532.6,157.96 L532.8,158.12 L533,158.28 L533.2,158.45 L533.4,158.61 L533.6,158.77 L533.8,158.93 L534,159.09 L534.2,159.25 L534.4,159.4 L534.6,159.56 L534.8,159.72 L535,159.87 L535.2,160.03 L535.4,160.19 L535.6,160.34 L535.8,160.49 L536,160.65 L536.2,160.8 L536.4,160.95 L536.6,161.1 L536.8,161.25 L537,161.4 L537.2,161.55 L537.4,161.7 L537.6,161.84 L537.8,161.99 L538,162.14 L538.2,162.28 L538.4,162.42 L538.6,162.57 L538.8,162.71 L539,162.85 L539.2,162.99 L539.4,163.13 L539.6,163.27 L539.8,163.41 L540,163.54 L540.2,163.68 L540.4,163.81 L540.6,163.95 L540.8,164.08 L541,164.21 L541.2,164.35 L541.4,164.48 L541.6,164.6 L541.8,164.73 L542,164.86 L542.2,164.99 L542.4,165.11 L542.6,165.24 L542.8,165.36 L543,165.48 L543.2,165.6 L543.4,165.72 L543.6,165.84 L543.8,165.96 L544,166.08 L544.2,166.19 L544.4,166.31 L544.6,166.42 L544.8,166.53 L545,166.64 L545.2,166.75 L545.4,166.86 L545.6,166.97 L545.8,167.08 L546,167.18 L546.2,167.29 L546.4,167.39 L546.6,167.49 L546.8,167.59 L547,167.69 L547.2,167.79 L547.4,167.89 L547.6,167.99 L547.8,168.08 L548,168.18 L548.2,168.27 L548.4,168.36 L548.6,168.45 L548.8,168.54 L549,168.63 L549.2,168.72 L549.4,168.81 L549.6,168.9 L549.8,168.98 L550,169.07 L550.2,169.15 L550.4,169.23 L550.6,169.32 L550.8,169.4 L551,169.48 L551.2,169.56 L551.4,169.64 L551.6,169.71 L551.8,169.79 L552,169.87 L552.2,169.94 L552.4,170.02 L552.6,170.09 L552.8,170.16 L553,170.24 L553.2,170.31 L553.4,170.38 L553.6,170.45 L553.8,170.52 L554,170.59 L554.2,170.65 L554.4,170.72 L554.6,170.79 L554.8,170.85 L555,170.92 L555.2,170.98 L555.4,171.05 L555.6,171.11 L555.8,171.18 L556,171.24 L556.2,171.3 L556.4,171.36 L556.6,171.42 L556.8,171.48 L557,171.54 L557.2,171.6 L557.4,171.66 L557.6,171.72 L557.8,171.77 L558,171.83 L558.2,171.89 L558.4,171.94 L558.6,172 L558.8,172.05 L559,172.11 L559.2,172.16 L559.4,172.22 L559.6,172.27 L559.8,172.32 L560,172.38 L560.2,172.43 L560.4,172.48 L560.6,172.53 L560.8,172.58 L561,172.64 L561.2,172.69 L561.4,172.74 L561.6,172.79 L561.8,172.84 L562,172.89 L562.2,172.94 L562.4,172.99 L562.6,173.04 L562.8,173.08 L563,173.13 L563.2,173.18 L563.4,173.23 L563.6,173.28 L563.8,173.32 L564,173.37 L564.2,173.42 L564.4,173.46 L564.6,173.51 L564.8,173.56 L565,173.6 L565.2,173.65 L565.4,173.69 L565.6,173.74 L565.8,173.78 L566,173.82 L566.2,173.87 L566.4,173.91 L566.6,173.95 L566.8,174 L567,174.04 L567.2,174.08 L567.4,174.12 L567.6,174.16 L567.8,174.2 L568,174.24 L568.2,174.28 L568.4,174.32 L568.6,174.36 L568.8,174.4 L569,174.43 L569.2,174.47 L569.4,174.51 L569.6,174.54 L569.8,174.58 L570,174.62 L570.2,174.65 L570.4,174.69 L570.6,174.72 L570.8,174.75 L571,174.79 L571.2,174.82 L571.4,174.85 L571.6,174.88 L571.8,174.91 L572,174.94 L572.2,174.97 L572.4,175 L572.6,175.03 L572.8,175.06 L573,175.09 L573.2,175.11 L573.4,175.14 L573.6,175.17 L573.8,175.19 L574,175.22 L574.2,175.24 L574.4,175.26 L574.6,175.29 L574.8,175.31 L575,175.33 L575.2,175.35 L575.4,175.37 L575.6,175.39 L575.8,175.41 L576,175.43 L576.2,175.45 L576.4,175.46 L576.6,175.48 L576.8,175.49 L577,175.51 L577.2,175.52 L577.4,175.54 L577.6,175.55 L577.8,175.56 L578,175.57 L578.2,175.59 L578.4,175.6 L578.6,175.6 L578.8,175.61 L579,175.62 L579.2,175.63 L579.4,175.63 L579.6,175.64 L579.8,175.65 L580,175.65 L580.2,175.65 L580.4,175.66 L580.6,175.66 L580.8,175.66 L581,175.66 L581.2,175.66 L581.4,175.66 L581.6,175.65 L581.8,175.65 L582,175.65 L582.2,175.64 L582.4,175.64 L582.6,175.63 L582.8,175.63 L583,175.62 L583.2,175.61 L583.4,175.6 L583.6,175.59 L583.8,175.58 L584,175.57 L584.2,175.56 L584.4,175.55 L584.6,175.53 L584.8,175.52 L585,175.51 L585.2,175.49 L585.4,175.48 L585.6,175.46 L585.8,175.44 L586,175.43 L586.2,175.41 L586.4,175.39 L586.6,175.37 L586.8,175.35 L587,175.33 L587.2,175.31 L587.4,175.29 L587.6,175.26 L587.8,175.24 L588,175.22 L588.2,175.19 L588.4,175.17 L588.6,175.14 L588.8,175.12 L589,175.09 L589.2,175.06 L589.4,175.03 L589.6,175.01 L589.8,174.98 L590,174.95 L590.2,174.92 L590.4,174.89 L590.6,174.86 L590.8,174.83 L591,174.79 L591.2,174.76 L591.4,174.73 L591.6,174.7 L591.8,174.66 L592,174.63 L592.2,174.6 L592.4,174.56 L592.6,174.53 L592.8,174.49 L593,174.46 L593.2,174.42 L593.4,174.39 L593.6,174.35 L593.8,174.32 L594,174.28 L594.2,174.25 L594.4,174.21 L594.6,174.18 L594.8,174.14 L595,174.11 L595.2,174.07 L595.4,174.04 L595.6,174 L595.8,173.97 L596,173.93 L596.2,173.9 L596.4,173.86 L596.6,173.83 L596.8,173.8 L597,173.76 L597.2,173.73 L597.4,173.7 L597.6,173.67 L597.8,173.63 L598,173.6 L598.2,173.57 L598.4,173.54 L598.6,173.51 L598.8,173.48 L599,173.45 L599.2,173.42 L599.4,173.4 L599.6,173.37 L599.8,173.34 L600,173.32 L600.2,173.29 L600.4,173.27 L600.6,173.24 L600.8,173.22 L601,173.2 L601.2,173.18 L601.4,173.15 L601.6,173.13 L601.8,173.11 L602,173.1 L602.2,173.08 L602.4,173.06 L602.6,173.04 L602.8,173.03 L603,173.01 L603.2,173 L603.4,172.98 L603.6,172.97 L603.8,172.96 L604,172.94 L604.2,172.93 L604.4,172.92 L604.6,172.91 L604.8,172.9 L605,172.9 L605.2,172.89 L605.4,172.88 L605.6,172.87 L605.8,172.87 L606,172.86 L606.2,172.86 L606.4,172.86 L606.6,172.85 L606.8,172.85 L607,172.85 L607.2,172.85 L607.4,172.85 L607.6,172.85 L607.8,172.85 L608,172.86 L608.2,172.86 L608.4,172.86 L608.6,172.87 L608.8,172.87 L609,172.88 L609.2,172.88 L609.4,172.89 L609.6,172.9 L609.8,172.91 L610,172.92 L610.2,172.93 L610.4,172.94 L610.6,172.95 L610.8,172.96 L611,172.98 L611.2,172.99 L611.4,173.01 L611.6,173.02 L611.8,173.04 L612,173.05 L612.2,173.07 L612.4,173.09 L612.6,173.11 L612.8,173.13 L613,173.15 L613.2,173.17 L613.4,173.19 L613.6,173.22 L613.8,173.24 L614,173.26 L614.2,173.29 L614.4,173.31 L614.6,173.34 L614.8,173.37 L615,173.4 L615.2,173.42 L615.4,173.45 L615.6,173.48 L615.8,173.51 L616,173.55 L616.2,173.58 L616.4,173.61 L616.6,173.65 L616.8,173.68 L617,173.72 L617.2,173.75 L617.4,173.79 L617.6,173.83 L617.8,173.86 L618,173.9 L618.2,173.94 L618.4,173.98 L618.6,174.02 L618.8,174.06 L619,174.1 L619.2,174.15 L619.4,174.19 L619.6,174.23 L619.8,174.28 L620,174.32 L620.2,174.36 L620.4,174.41 L620.6,174.46 L620.8,174.5 L621,174.55 L621.2,174.59 L621.4,174.64 L621.6,174.69 L621.8,174.74 L622,174.79 L622.2,174.83 L622.4,174.88 L622.6,174.93 L622.8,174.98 L623,175.03 L623.2,175.08 L623.4,175.13 L623.6,175.18 L623.8,175.24 L624,175.29 L624.2,175.34 L624.4,175.39 L624.6,175.44 L624.8,175.49 L625,175.55 L625.2,175.6 L625.4,175.65 L625.6,175.7 L625.8,175.76 L626,175.81 L626.2,175.86 L626.4,175.92 L626.6,175.97 L626.8,176.02 L627,176.08 L627.2,176.13 L627.4,176.18 L627.6,176.24 L627.8,176.29 L628,176.34 L628.2,176.4 L628.4,176.45 L628.6,176.5 L628.8,176.56 L629,176.61 L629.2,176.66 L629.4,176.71 L629.6,176.77 L629.8,176.82 L630,176.87 L630.2,176.92 L630.4,176.97 L630.6,177.03 L630.8,177.08 L631,177.13 L631.2,177.18 L631.4,177.23 L631.6,177.28 L631.8,177.33 L632,177.38 L632.2,177.43 L632.4,177.48 L632.6,177.53 L632.8,177.58 L633,177.62 L633.2,177.67 L633.4,177.72 L633.6,177.77 L633.8,177.81 L634,177.86 L634.2,177.91 L634.4,177.95 L634.6,178 L634.8,178.04 L635,178.09 L635.2,178.13 L635.4,178.17 L635.6,178.22 L635.8,178.26 L636,178.3 L636.2,178.35 L636.4,178.39 L636.6,178.43 L636.8,178.47 L637,178.51 L637.2,178.55 L637.4,178.59 L637.6,178.63 L637.8,178.67 L638,178.71 L638.2,178.75 L638.4,178.79 L638.6,178.83 L638.8,178.87 L639,178.91 L639.2,178.94 L639.4,178.98 L639.6,179.02 L639.8,179.06 L640,179.09 L640.2,179.13 L640.4,179.16 L640.6,179.2 L640.8,179.23 L641,179.27 L641.2,179.3 L641.4,179.34 L641.6,179.37 L641.8,179.41 L642,179.44 L642.2,179.47 L642.4,179.51 L642.6,179.54 L642.8,179.57 L643,179.61 L643.2,179.64 L643.4,179.67 L643.6,179.7 L643.8,179.73 L644,179.76 L644.2,179.8 L644.4,179.83 L644.6,179.86 L644.8,179.89 L645,179.92 L645.2,179.95 L645.4,179.98 L645.6,180.01 L645.8,180.04 L646,180.06 L646.2,180.09 L646.4,180.12 L646.6,180.15 L646.8,180.18 L647,180.21 L647.2,180.23 L647.4,180.26 L647.6,180.29 L647.8,180.32 L648,180.34 L648.2,180.37 L648.4,180.4 L648.6,180.42 L648.8,180.45 L649,180.47 L649.2,180.5 L649.4,180.53 L649.6,180.55 L649.8,180.58 L650,180.6 L650.2,180.63 L650.4,180.65 L650.6,180.68 L650.8,180.7 L651,180.72 L651.2,180.75 L651.4,180.77 L651.6,180.8 L651.8,180.82 L652,180.84 L652.2,180.87 L652.4,180.89 L652.6,180.91 L652.8,180.94 L653,180.96 L653.2,180.98 L653.4,181.01 L653.6,181.03 L653.8,181.05 L654,181.07 L654.2,181.1 L654.4,181.12 L654.6,181.14 L654.8,181.16 L655,181.18 L655.2,181.21 L655.4,181.23 L655.6,181.25 L655.8,181.27 L656,181.29 L656.2,181.31 L656.4,181.33 L656.6,181.35 L656.8,181.38 L657,181.4 L657.2,181.42 L657.4,181.44 L657.6,181.46 L657.8,181.48 L658,181.5 L658.2,181.52 L658.4,181.54 L658.6,181.56 L658.8,181.58 L659,181.6 L659.2,181.62 L659.4,181.64 L659.6,181.66 L659.8,181.68 L660,181.7 L660.2,181.72 L660.4,181.74 L660.6,181.76 L660.8,181.78 L661,181.8 L661.2,181.82 L661.4,181.84 L661.6,181.86 L661.8,181.88 L662,181.9 L662.2,181.92 L662.4,181.94 L662.6,181.96 L662.8,181.98 L663,182 L663.2,182.02 L663.4,182.04 L663.6,182.06 L663.8,182.08 L664,182.1 L664.2,182.12 L664.4,182.13 L664.6,182.15 L664.8,182.17 L665,182.19 L665.2,182.21 L665.4,182.23 L665.6,182.25 L665.8,182.27 L666,182.29 L666.2,182.31 L666.4,182.33 L666.6,182.35 L666.8,182.37 L667,182.39 L667.2,182.41 L667.4,182.43 L667.6,182.45 L667.8,182.47 L668,182.49 L668.2,182.51 L668.4,182.53 L668.6,182.55 L668.8,182.58 L669,182.6 L669.2,182.62 L669.4,182.64 L669.6,182.66 L669.8,182.68 L670,182.7 L670.2,182.72 L670.4,182.74 L670.6,182.76 L670.8,182.79 L671,182.81 L671.2,182.83 L671.4,182.85 L671.6,182.87 L671.8,182.89 L672,182.92 L672.2,182.94 L672.4,182.96 L672.6,182.98 L672.8,183 L673,183.03 L673.2,183.05 L673.4,183.07 L673.6,183.09 L673.8,183.12 L674,183.14 L674.2,183.16 L674.4,183.19 L674.6,183.21 L674.8,183.24 L675,183.26 L675.2,183.28 L675.4,183.31 L675.6,183.33 L675.8,183.36 L676,183.38 L676.2,183.41 L676.4,183.43 L676.6,183.46 L676.8,183.48 L677,183.51 L677.2,183.53 L677.4,183.56 L677.6,183.58 L677.8,183.61 L678,183.64 L678.2,183.66 L678.4,183.69 L678.6,183.72 L678.8,183.74 L679,183.77 L679.2,183.8 L679.4,183.82 L679.6,183.85 L679.8,183.88 L680,183.91 L680.2,183.94 L680.4,183.97 L680.6,183.99 L680.8,184.02 L681,184.05 L681.2,184.08 L681.4,184.11 L681.6,184.14 L681.8,184.17 L682,184.2 L682.2,184.23 L682.4,184.26 L682.6,184.3 L682.8,184.33 L683,184.36 L683,184.36" fill="none" stroke="#000" stroke-width="1.45" stroke-linejoin="round"/>
<rect x="506.8" y="24.5" width="176.7" height="160.3" fill="none" stroke="#000" stroke-width="1.5"/>
<line x1="503.2" y1="184.8" x2="506.8" y2="184.8" stroke="#000" stroke-width="1.5"/>
<text x="501.2" y="189" text-anchor="end" font-size="12.6">0.0</text>
<line x1="503.2" y1="138.9" x2="506.8" y2="138.9" stroke="#000" stroke-width="1.5"/>
<text x="501.2" y="143.1" text-anchor="end" font-size="12.6">0.1</text>
<line x1="503.2" y1="92.8" x2="506.8" y2="92.8" stroke="#000" stroke-width="1.5"/>
<text x="501.2" y="97" text-anchor="end" font-size="12.6">0.2</text>
<line x1="503.2" y1="46.7" x2="506.8" y2="46.7" stroke="#000" stroke-width="1.5"/>
<text x="501.2" y="50.9" text-anchor="end" font-size="12.6">0.3</text>
<line x1="518.7" y1="184.8" x2="518.7" y2="188.4" stroke="#000" stroke-width="1.5"/>
<text x="518.7" y="201.1" text-anchor="middle" font-size="12.6">300</text>
<line x1="548.65" y1="184.8" x2="548.65" y2="188.4" stroke="#000" stroke-width="1.5"/>
<text x="548.65" y="201.1" text-anchor="middle" font-size="12.6">400</text>
<line x1="578.6" y1="184.8" x2="578.6" y2="188.4" stroke="#000" stroke-width="1.5"/>
<text x="578.6" y="201.1" text-anchor="middle" font-size="12.6">500</text>
<line x1="608.55" y1="184.8" x2="608.55" y2="188.4" stroke="#000" stroke-width="1.5"/>
<text x="608.55" y="201.1" text-anchor="middle" font-size="12.6">600</text>
<line x1="638.5" y1="184.8" x2="638.5" y2="188.4" stroke="#000" stroke-width="1.5"/>
<text x="638.5" y="201.1" text-anchor="middle" font-size="12.6">700</text>
<line x1="668.45" y1="184.8" x2="668.45" y2="188.4" stroke="#000" stroke-width="1.5"/>
<text x="668.45" y="201.1" text-anchor="middle" font-size="12.6">800</text>
<text x="595.2" y="222.2" text-anchor="middle" font-size="13.72">Wavelength (nm)</text>
<text transform="translate(479.3,104.3) rotate(-90)" text-anchor="middle" font-size="13.63">Absorbance (a.u.)</text>
<text x="0.2" y="234.2" font-size="25.2">D</text>
<path d="M43,249.42V258.38M42,249.42h2M42,258.38h2 M44.92,249.56V258.75M43.92,249.56h2M43.92,258.75h2 M47.59,251.24V258.25M46.59,251.24h2M46.59,258.25h2 M50.26,248.42V258.56M49.26,248.42h2M49.26,258.56h2 M52.93,250.34V258.04M51.93,250.34h2M51.93,258.04h2 M55.6,251.69V260.34M54.6,251.69h2M54.6,260.34h2 M58.27,251.56V260.24M57.27,251.56h2M57.27,260.24h2 M60.94,252.03V259.39M59.94,252.03h2M59.94,259.39h2 M63.61,250.82V261.09M62.61,250.82h2M62.61,261.09h2 M66.28,251.07V260.82M65.28,251.07h2M65.28,260.82h2 M68.95,252.98V259.99M67.95,252.98h2M67.95,259.99h2 M71.62,252.28V261.43M70.62,252.28h2M70.62,261.43h2 M74.29,252.53V259.41M73.29,252.53h2M73.29,259.41h2 M76.96,252.94V261.61M75.96,252.94h2M75.96,261.61h2 M79.63,251.88V262.19M78.63,251.88h2M78.63,262.19h2 M82.3,252.03V262.51M81.3,252.03h2M81.3,262.51h2 M84.97,252.09V262.09M83.97,252.09h2M83.97,262.09h2 M87.64,252.87V263.41M86.64,252.87h2M86.64,263.41h2 M90.31,257.3V263.85M89.31,257.3h2M89.31,263.85h2 M92.98,258.2V264.56M91.98,258.2h2M91.98,264.56h2 M95.65,262.3V268.69M94.65,262.3h2M94.65,268.69h2 M98.32,266.31V271.62M97.32,266.31h2M97.32,271.62h2 M100.99,271.59V276.44M99.99,271.59h2M99.99,276.44h2 M103.66,278.14V282.7M102.66,278.14h2M102.66,282.7h2 M106.33,286.45V290.79M105.33,286.45h2M105.33,290.79h2 M109,296.62V300.12M108,296.62h2M108,300.12h2 M111.67,308.11V311.7M110.67,308.11h2M110.67,311.7h2 M114.34,321.01V323.48M113.34,321.01h2M113.34,323.48h2 M117.01,334.07V337.62M116.01,334.07h2M116.01,337.62h2 M119.68,347.75V350.77M118.68,347.75h2M118.68,350.77h2 M122.35,359.9V362.43M121.35,359.9h2M121.35,362.43h2 M125.02,369.74V372.77M124.02,369.74h2M124.02,372.77h2 M127.69,377.21V379.55M126.69,377.21h2M126.69,379.55h2 M130.36,383.81V387.4M129.36,383.81h2M129.36,387.4h2 M133.03,388.13V391.46M132.03,388.13h2M132.03,391.46h2 M135.7,392.58V396.34M134.7,392.58h2M134.7,396.34h2 M138.37,395.04V400.09M137.37,395.04h2M137.37,400.09h2 M141.04,399.48V403.02M140.04,399.48h2M140.04,403.02h2 M143.71,400.51V404.05M142.71,400.51h2M142.71,404.05h2 M146.38,401.58V405.72M145.38,401.58h2M145.38,405.72h2 M149.05,401.94V407.42M148.05,401.94h2M148.05,407.42h2 M151.72,401.19V406.71M150.72,401.19h2M150.72,406.71h2 M154.39,401.63V405.24M153.39,401.63h2M153.39,405.24h2 M157.06,402.29V405.81M156.06,402.29h2M156.06,405.81h2 M159.73,400.7V405M158.73,400.7h2M158.73,405h2 M162.4,401.93V405.7M161.4,401.93h2M161.4,405.7h2 M165.07,399.65V404.89M164.07,399.65h2M164.07,404.89h2 M167.74,400.22V405.66M166.74,400.22h2M166.74,405.66h2 M170.41,402.34V406.57M169.41,402.34h2M169.41,406.57h2 M173.08,401.08V405.6M172.08,401.08h2M172.08,405.6h2 M175.75,401.52V406.2M174.75,401.52h2M174.75,406.2h2 M178.42,401.34V406.07M177.42,401.34h2M177.42,406.07h2 M181.09,402.53V407.03M180.09,402.53h2M180.09,407.03h2 M183.76,401.07V406.01M182.76,401.07h2M182.76,406.01h2 M186.43,401.1V405.17M185.43,401.1h2M185.43,405.17h2 M189.1,402.89V407.42M188.1,402.89h2M188.1,407.42h2 M191.77,402.4V405.88M190.77,402.4h2M190.77,405.88h2 M194.44,401.56V406.21M193.44,401.56h2M193.44,406.21h2 M197.11,400.58V405.3M196.11,400.58h2M196.11,405.3h2 M199.78,402.81V406.39M198.78,402.81h2M198.78,406.39h2 M202.45,402.43V406.84M201.45,402.43h2M201.45,406.84h2 M205.12,402.71V406.89M204.12,402.71h2M204.12,406.89h2 M207.79,402.39V407.37M206.79,402.39h2M206.79,407.37h2 M210.46,401.28V404.86M209.46,401.28h2M209.46,404.86h2 M213.13,401.99V407.43M212.13,401.99h2M212.13,407.43h2 M215.8,401.31V405.7M214.8,401.31h2M214.8,405.7h2 M218,402.23V406.34M217,402.23h2M217,406.34h2" fill="none" stroke="#1a1a1a" stroke-width="0.8"/>
<path d="M42.6,254.49 L43.1,254.47 L43.6,254.46 L44.1,254.45 L44.6,254.44 L45.1,254.44 L45.6,254.44 L46.1,254.44 L46.6,254.45 L47.1,254.46 L47.6,254.47 L48.1,254.48 L48.6,254.5 L49.1,254.51 L49.6,254.53 L50.1,254.56 L50.6,254.58 L51.1,254.61 L51.6,254.64 L52.1,254.67 L52.6,254.7 L53.1,254.73 L53.6,254.77 L54.1,254.8 L54.6,254.84 L55.1,254.88 L55.6,254.92 L56.1,254.96 L56.6,255.01 L57.1,255.05 L57.6,255.09 L58.1,255.14 L58.6,255.19 L59.1,255.23 L59.6,255.28 L60.1,255.33 L60.6,255.37 L61.1,255.42 L61.6,255.47 L62.1,255.51 L62.6,255.56 L63.1,255.61 L63.6,255.66 L64.1,255.7 L64.6,255.75 L65.1,255.79 L65.6,255.84 L66.1,255.88 L66.6,255.92 L67.1,255.97 L67.6,256.01 L68.1,256.05 L68.6,256.09 L69.1,256.12 L69.6,256.16 L70.1,256.19 L70.6,256.23 L71.1,256.26 L71.6,256.29 L72.1,256.31 L72.6,256.34 L73.1,256.36 L73.6,256.38 L74.1,256.4 L74.6,256.42 L75.1,256.43 L75.6,256.44 L76.1,256.45 L76.6,256.46 L77.1,256.47 L77.6,256.48 L78.1,256.5 L78.6,256.51 L79.1,256.53 L79.6,256.56 L80.1,256.59 L80.6,256.62 L81.1,256.66 L81.6,256.71 L82.1,256.77 L82.6,256.84 L83.1,256.92 L83.6,257.01 L84.1,257.11 L84.6,257.23 L85.1,257.36 L85.6,257.5 L86.1,257.66 L86.6,257.84 L87.1,258.03 L87.6,258.24 L88.1,258.47 L88.6,258.72 L89.1,258.99 L89.6,259.28 L90.1,259.6 L90.6,259.94 L91.1,260.3 L91.6,260.69 L92.1,261.1 L92.6,261.54 L93.1,262.01 L93.6,262.5 L94.1,263.03 L94.6,263.58 L95.1,264.17 L95.6,264.78 L96.1,265.43 L96.6,266.12 L97.1,266.85 L97.6,267.61 L98.1,268.42 L98.6,269.27 L99.1,270.17 L99.6,271.11 L100.1,272.1 L100.6,273.15 L101.1,274.25 L101.6,275.4 L102.1,276.6 L102.6,277.84 L103.1,279.13 L103.6,280.46 L104.1,281.83 L104.6,283.24 L105.1,284.69 L105.6,286.2 L106.1,287.76 L106.6,289.39 L107.1,291.08 L107.6,292.85 L108.1,294.67 L108.6,296.56 L109.1,298.51 L109.6,300.52 L110.1,302.58 L110.6,304.7 L111.1,306.87 L111.6,309.09 L112.1,311.36 L112.6,313.67 L113.1,316.02 L113.6,318.41 L114.1,320.83 L114.6,323.28 L115.1,325.75 L115.6,328.25 L116.1,330.75 L116.6,333.27 L117.1,335.8 L117.6,338.33 L118.1,340.85 L118.6,343.36 L119.1,345.85 L119.6,348.3 L120.1,350.72 L120.6,353.09 L121.1,355.4 L121.6,357.64 L122.1,359.81 L122.6,361.9 L123.1,363.89 L123.6,365.8 L124.1,367.63 L124.6,369.38 L125.1,371.05 L125.6,372.66 L126.1,374.2 L126.6,375.67 L127.1,377.09 L127.6,378.44 L128.1,379.75 L128.6,381.01 L129.1,382.23 L129.6,383.4 L130.1,384.54 L130.6,385.63 L131.1,386.68 L131.6,387.69 L132.1,388.67 L132.6,389.6 L133.1,390.5 L133.6,391.36 L134.1,392.18 L134.6,392.97 L135.1,393.73 L135.6,394.45 L136.1,395.13 L136.6,395.79 L137.1,396.41 L137.6,397 L138.1,397.56 L138.6,398.09 L139.1,398.6 L139.6,399.07 L140.1,399.52 L140.6,399.94 L141.1,400.33 L141.6,400.7 L142.1,401.04 L142.6,401.36 L143.1,401.65 L143.6,401.93 L144.1,402.18 L144.6,402.41 L145.1,402.62 L145.6,402.82 L146.1,402.99 L146.6,403.15 L147.1,403.29 L147.6,403.41 L148.1,403.52 L148.6,403.62 L149.1,403.7 L149.6,403.77 L150.1,403.82 L150.6,403.87 L151.1,403.9 L151.6,403.93 L152.1,403.94 L152.6,403.95 L153.1,403.95 L153.6,403.95 L154.1,403.93 L154.6,403.92 L155.1,403.9 L155.6,403.87 L156.1,403.85 L156.6,403.82 L157.1,403.79 L157.6,403.76 L158.1,403.73 L158.6,403.7 L159.1,403.67 L159.6,403.65 L160.1,403.62 L160.6,403.6 L161.1,403.58 L161.6,403.56 L162.1,403.54 L162.6,403.52 L163.1,403.51 L163.6,403.49 L164.1,403.48 L164.6,403.47 L165.1,403.46 L165.6,403.45 L166.1,403.44 L166.6,403.44 L167.1,403.43 L167.6,403.43 L168.1,403.42 L168.6,403.42 L169.1,403.42 L169.6,403.42 L170.1,403.42 L170.6,403.42 L171.1,403.42 L171.6,403.43 L172.1,403.43 L172.6,403.44 L173.1,403.44 L173.6,403.45 L174.1,403.46 L174.6,403.47 L175.1,403.48 L175.6,403.48 L176.1,403.5 L176.6,403.51 L177.1,403.52 L177.6,403.53 L178.1,403.54 L178.6,403.56 L179.1,403.57 L179.6,403.59 L180.1,403.6 L180.6,403.62 L181.1,403.63 L181.6,403.65 L182.1,403.66 L182.6,403.68 L183.1,403.7 L183.6,403.71 L184.1,403.73 L184.6,403.75 L185.1,403.77 L185.6,403.79 L186.1,403.8 L186.6,403.82 L187.1,403.84 L187.6,403.86 L188.1,403.88 L188.6,403.9 L189.1,403.92 L189.6,403.93 L190.1,403.95 L190.6,403.97 L191.1,403.99 L191.6,404.01 L192.1,404.02 L192.6,404.04 L193.1,404.06 L193.6,404.08 L194.1,404.09 L194.6,404.11 L195.1,404.13 L195.6,404.14 L196.1,404.16 L196.6,404.17 L197.1,404.19 L197.6,404.2 L198.1,404.21 L198.6,404.23 L199.1,404.24 L199.6,404.25 L200.1,404.26 L200.6,404.27 L201.1,404.28 L201.6,404.29 L202.1,404.3 L202.6,404.31 L203.1,404.32 L203.6,404.32 L204.1,404.33 L204.6,404.33 L205.1,404.34 L205.6,404.34 L206.1,404.34 L206.6,404.34 L207.1,404.34 L207.6,404.34 L208.1,404.34 L208.6,404.33 L209.1,404.33 L209.6,404.32 L210.1,404.32 L210.6,404.31 L211.1,404.3 L211.6,404.29 L212.1,404.28 L212.6,404.27 L213.1,404.25 L213.6,404.24 L214.1,404.22 L214.6,404.2 L215.1,404.18 L215.6,404.16 L216.1,404.14 L216.6,404.12 L217.1,404.09 L217.6,404.07 L218.1,404.04" fill="none" stroke="#000" stroke-width="1.1"/>
<path d="M41.5,252.4h3v3h-3zM43.42,252.66h3v3h-3zM46.09,253.24h3v3h-3zM48.76,251.99h3v3h-3zM51.43,252.69h3v3h-3zM54.1,254.51h3v3h-3zM56.77,254.4h3v3h-3zM59.44,254.21h3v3h-3zM62.11,254.45h3v3h-3zM64.78,254.45h3v3h-3zM67.45,254.99h3v3h-3zM70.12,255.36h3v3h-3zM72.79,254.47h3v3h-3zM75.46,255.78h3v3h-3zM78.13,255.54h3v3h-3zM80.8,255.77h3v3h-3zM83.47,255.59h3v3h-3zM86.14,256.64h3v3h-3zM88.81,259.07h3v3h-3zM91.48,259.88h3v3h-3zM94.15,264h3v3h-3zM96.82,267.47h3v3h-3zM99.49,272.51h3v3h-3zM102.16,278.92h3v3h-3zM104.83,287.12h3v3h-3zM107.5,296.87h3v3h-3zM110.17,308.4h3v3h-3zM112.84,320.74h3v3h-3zM115.51,334.35h3v3h-3zM118.18,347.76h3v3h-3zM120.85,359.66h3v3h-3zM123.52,369.76h3v3h-3zM126.19,376.88h3v3h-3zM128.86,384.11h3v3h-3zM131.53,388.3h3v3h-3zM134.2,392.96h3v3h-3zM136.87,396.07h3v3h-3zM139.54,399.75h3v3h-3zM142.21,400.78h3v3h-3zM144.88,402.15h3v3h-3zM147.55,403.18h3v3h-3zM150.22,402.45h3v3h-3zM152.89,401.93h3v3h-3zM155.56,402.55h3v3h-3zM158.23,401.35h3v3h-3zM160.9,402.32h3v3h-3zM163.57,400.77h3v3h-3zM166.24,401.44h3v3h-3zM168.91,402.95h3v3h-3zM171.58,401.84h3v3h-3zM174.25,402.36h3v3h-3zM176.92,402.21h3v3h-3zM179.59,403.28h3v3h-3zM182.26,402.04h3v3h-3zM184.93,401.63h3v3h-3zM187.6,403.66h3v3h-3zM190.27,402.64h3v3h-3zM192.94,402.38h3v3h-3zM195.61,401.44h3v3h-3zM198.28,403.1h3v3h-3zM200.95,403.14h3v3h-3zM203.62,403.3h3v3h-3zM206.29,403.38h3v3h-3zM208.96,401.57h3v3h-3zM211.63,403.21h3v3h-3zM214.3,402.01h3v3h-3zM216.5,402.78h3v3h-3z" fill="#000"/>
<rect x="42.3" y="247.3" width="176.7" height="160.7" fill="none" stroke="#000" stroke-width="1.5"/>
<line x1="38.7" y1="405" x2="42.3" y2="405" stroke="#000" stroke-width="1.5"/>
<text x="36.7" y="409.2" text-anchor="end" font-size="12.6">0.0</text>
<line x1="38.7" y1="375" x2="42.3" y2="375" stroke="#000" stroke-width="1.5"/>
<text x="36.7" y="379.2" text-anchor="end" font-size="12.6">0.2</text>
<line x1="38.7" y1="345" x2="42.3" y2="345" stroke="#000" stroke-width="1.5"/>
<text x="36.7" y="349.2" text-anchor="end" font-size="12.6">0.4</text>
<line x1="38.7" y1="315" x2="42.3" y2="315" stroke="#000" stroke-width="1.5"/>
<text x="36.7" y="319.2" text-anchor="end" font-size="12.6">0.6</text>
<line x1="38.7" y1="285" x2="42.3" y2="285" stroke="#000" stroke-width="1.5"/>
<text x="36.7" y="289.2" text-anchor="end" font-size="12.6">0.8</text>
<line x1="38.7" y1="255" x2="42.3" y2="255" stroke="#000" stroke-width="1.5"/>
<text x="36.7" y="259.2" text-anchor="end" font-size="12.6">1.0</text>
<line x1="55.6" y1="408" x2="55.6" y2="411.6" stroke="#000" stroke-width="1.5"/>
<text x="55.6" y="424" text-anchor="middle" font-size="12.6">30</text>
<line x1="82.3" y1="408" x2="82.3" y2="411.6" stroke="#000" stroke-width="1.5"/>
<text x="82.3" y="424" text-anchor="middle" font-size="12.6">40</text>
<line x1="109" y1="408" x2="109" y2="411.6" stroke="#000" stroke-width="1.5"/>
<text x="109" y="424" text-anchor="middle" font-size="12.6">50</text>
<line x1="135.7" y1="408" x2="135.7" y2="411.6" stroke="#000" stroke-width="1.5"/>
<text x="135.7" y="424" text-anchor="middle" font-size="12.6">60</text>
<line x1="162.4" y1="408" x2="162.4" y2="411.6" stroke="#000" stroke-width="1.5"/>
<text x="162.4" y="424" text-anchor="middle" font-size="12.6">70</text>
<line x1="189.1" y1="408" x2="189.1" y2="411.6" stroke="#000" stroke-width="1.5"/>
<text x="189.1" y="424" text-anchor="middle" font-size="12.6">80</text>
<line x1="215.8" y1="408" x2="215.8" y2="411.6" stroke="#000" stroke-width="1.5"/>
<text x="215.8" y="424" text-anchor="middle" font-size="12.6">90</text>
<text x="130.5" y="445.1" text-anchor="middle" font-size="13.72">Temperature (°C)</text>
<text transform="translate(13.4,330.1) rotate(-90)" text-anchor="middle" font-size="13.9">Fraction of folded protein</text>
<text x="232.4" y="234.2" font-size="25.2">E</text>
<path d="M281.3,255.35 L298.64,260.89 L315.98,271.5 L350.66,289.24 L385.34,320.14 L420.02,331.42 L454.7,343.6 L454.7,347.6 L420.02,336.42 L385.34,325.14 L350.66,297.24 L315.98,282.5 L298.64,271.89 L281.3,265.35 Z" fill="#d6d6d6" stroke="#d6d6d6" stroke-width="1" stroke-linejoin="round"/>
<path d="M281.3,254.35 L298.64,272.61 L315.98,299.98 L350.66,326.94 L385.34,344.92 L420.02,375.77 L454.7,389.51 L454.7,393.51 L420.02,385.77 L385.34,362.92 L350.66,337.94 L315.98,307.98 L298.64,284.61 L281.3,266.35 Z" fill="#fbcaca" fill-opacity="0.85" stroke="none"/>
<path d="M281.3,260.35 L298.64,266.39 L315.98,277 L350.66,293.24 L385.34,322.64 L420.02,333.92 L454.7,345.6" fill="none" stroke="#1a1a1a" stroke-width="1.25"/>
<path d="M281.3,260.35 L298.64,278.61 L315.98,303.98 L350.66,332.44 L385.34,353.92 L420.02,380.77 L454.7,391.51" fill="none" stroke="#ff0a0a" stroke-width="1.35"/>
<rect x="279" y="258.05" width="4.6" height="4.6" fill="#000" stroke="#fff" stroke-opacity="0.6" stroke-width="0.7"/>
<rect x="296.34" y="264.09" width="4.6" height="4.6" fill="#000" stroke="#fff" stroke-opacity="0.6" stroke-width="0.7"/>
<rect x="313.68" y="274.7" width="4.6" height="4.6" fill="#000" stroke="#fff" stroke-opacity="0.6" stroke-width="0.7"/>
<rect x="348.36" y="290.94" width="4.6" height="4.6" fill="#000" stroke="#fff" stroke-opacity="0.6" stroke-width="0.7"/>
<rect x="383.04" y="320.34" width="4.6" height="4.6" fill="#000" stroke="#fff" stroke-opacity="0.6" stroke-width="0.7"/>
<rect x="417.72" y="331.62" width="4.6" height="4.6" fill="#000" stroke="#fff" stroke-opacity="0.6" stroke-width="0.7"/>
<rect x="452.4" y="343.3" width="4.6" height="4.6" fill="#000" stroke="#fff" stroke-opacity="0.6" stroke-width="0.7"/>
<rect x="279.1" y="258.15" width="4.4" height="4.4" fill="#ff0000"/>
<rect x="296.44" y="276.41" width="4.4" height="4.4" fill="#ff0000"/>
<rect x="313.78" y="301.78" width="4.4" height="4.4" fill="#ff0000"/>
<rect x="348.46" y="330.24" width="4.4" height="4.4" fill="#ff0000"/>
<rect x="383.14" y="351.72" width="4.4" height="4.4" fill="#ff0000"/>
<rect x="417.82" y="378.57" width="4.4" height="4.4" fill="#ff0000"/>
<rect x="452.5" y="389.31" width="4.4" height="4.4" fill="#ff0000"/>
<rect x="281.3" y="247.2" width="176.7" height="160.8" fill="none" stroke="#000" stroke-width="1.5"/>
<line x1="277.1" y1="394.6" x2="281.3" y2="394.6" stroke="#000" stroke-width="1.5"/>
<text x="273.9" y="398.8" text-anchor="end" font-size="12.6">0</text>
<line x1="277.1" y1="367.75" x2="281.3" y2="367.75" stroke="#000" stroke-width="1.5"/>
<text x="273.9" y="371.95" text-anchor="end" font-size="12.6">20</text>
<line x1="277.1" y1="340.9" x2="281.3" y2="340.9" stroke="#000" stroke-width="1.5"/>
<text x="273.9" y="345.1" text-anchor="end" font-size="12.6">40</text>
<line x1="277.1" y1="314.05" x2="281.3" y2="314.05" stroke="#000" stroke-width="1.5"/>
<text x="273.9" y="318.25" text-anchor="end" font-size="12.6">60</text>
<line x1="277.1" y1="287.2" x2="281.3" y2="287.2" stroke="#000" stroke-width="1.5"/>
<text x="273.9" y="291.4" text-anchor="end" font-size="12.6">80</text>
<line x1="277.1" y1="260.35" x2="281.3" y2="260.35" stroke="#000" stroke-width="1.5"/>
<text x="273.9" y="264.55" text-anchor="end" font-size="12.6">100</text>
<line x1="281.3" y1="408" x2="281.3" y2="412.2" stroke="#000" stroke-width="1.5"/>
<text x="281.3" y="426" text-anchor="middle" font-size="12.6">0</text>
<line x1="315.98" y1="408" x2="315.98" y2="412.2" stroke="#000" stroke-width="1.5"/>
<text x="315.98" y="426" text-anchor="middle" font-size="12.6">1</text>
<line x1="350.66" y1="408" x2="350.66" y2="412.2" stroke="#000" stroke-width="1.5"/>
<text x="350.66" y="426" text-anchor="middle" font-size="12.6">2</text>
<line x1="385.34" y1="408" x2="385.34" y2="412.2" stroke="#000" stroke-width="1.5"/>
<text x="385.34" y="426" text-anchor="middle" font-size="12.6">3</text>
<line x1="420.02" y1="408" x2="420.02" y2="412.2" stroke="#000" stroke-width="1.5"/>
<text x="420.02" y="426" text-anchor="middle" font-size="12.6">4</text>
<line x1="454.7" y1="408" x2="454.7" y2="412.2" stroke="#000" stroke-width="1.5"/>
<text x="454.7" y="426" text-anchor="middle" font-size="12.6">5</text>
<text x="369.65" y="445.1" text-anchor="middle" font-size="13.72">Time (Days)</text>
<text transform="translate(252,327.9) rotate(-90)" text-anchor="middle" font-size="13.62">Relative activity (%)</text>
<line x1="415" y1="254.3" x2="430.2" y2="254.3" stroke="#111" stroke-width="1.4"/>
<line x1="415" y1="268.1" x2="430.2" y2="268.1" stroke="#ff1a1a" stroke-width="1.6"/>
<text x="433" y="258.8" font-size="11.3">30°C</text>
<text x="433" y="272.7" font-size="11.3">50°C</text>
<text x="467.3" y="234.2" font-size="25.2">F</text>
<path d="M507,255.35 L524.34,260.18 L541.68,269.35 L576.36,281.57 L611.04,286.67 L645.72,293.88 L680.4,297.7 L680.4,305.7 L645.72,303.88 L611.04,297.67 L576.36,292.57 L541.68,280.35 L524.34,270.18 L507,265.35 Z" fill="#d6d6d6" stroke="#d6d6d6" stroke-width="1" stroke-linejoin="round"/>
<path d="M507,254.35 L524.34,267.6 L541.68,279.48 L576.36,299.98 L611.04,323.17 L645.72,352.96 L680.4,360.17 L680.4,362.17 L645.72,355.96 L611.04,330.17 L576.36,307.98 L541.68,288.48 L524.34,278.6 L507,266.35 Z" fill="#fbcaca" fill-opacity="0.85" stroke="none"/>
<path d="M507,260.35 L524.34,265.18 L541.68,274.85 L576.36,287.07 L611.04,292.17 L645.72,298.88 L680.4,301.7" fill="none" stroke="#1a1a1a" stroke-width="1.25"/>
<path d="M507,260.35 L524.34,273.1 L541.68,283.98 L576.36,303.98 L611.04,326.67 L645.72,354.46 L680.4,361.17" fill="none" stroke="#ff0a0a" stroke-width="1.35"/>
<rect x="504.7" y="258.05" width="4.6" height="4.6" fill="#000" stroke="#fff" stroke-opacity="0.6" stroke-width="0.7"/>
<rect x="522.04" y="262.88" width="4.6" height="4.6" fill="#000" stroke="#fff" stroke-opacity="0.6" stroke-width="0.7"/>
<rect x="539.38" y="272.55" width="4.6" height="4.6" fill="#000" stroke="#fff" stroke-opacity="0.6" stroke-width="0.7"/>
<rect x="574.06" y="284.77" width="4.6" height="4.6" fill="#000" stroke="#fff" stroke-opacity="0.6" stroke-width="0.7"/>
<rect x="608.74" y="289.87" width="4.6" height="4.6" fill="#000" stroke="#fff" stroke-opacity="0.6" stroke-width="0.7"/>
<rect x="643.42" y="296.58" width="4.6" height="4.6" fill="#000" stroke="#fff" stroke-opacity="0.6" stroke-width="0.7"/>
<rect x="678.1" y="299.4" width="4.6" height="4.6" fill="#000" stroke="#fff" stroke-opacity="0.6" stroke-width="0.7"/>
<rect x="504.8" y="258.15" width="4.4" height="4.4" fill="#ff0000"/>
<rect x="522.14" y="270.9" width="4.4" height="4.4" fill="#ff0000"/>
<rect x="539.48" y="281.78" width="4.4" height="4.4" fill="#ff0000"/>
<rect x="574.16" y="301.78" width="4.4" height="4.4" fill="#ff0000"/>
<rect x="608.84" y="324.47" width="4.4" height="4.4" fill="#ff0000"/>
<rect x="643.52" y="352.26" width="4.4" height="4.4" fill="#ff0000"/>
<rect x="678.2" y="358.97" width="4.4" height="4.4" fill="#ff0000"/>
<rect x="507" y="247.2" width="176" height="160.7" fill="none" stroke="#000" stroke-width="1.5"/>
<line x1="502.8" y1="394.6" x2="507" y2="394.6" stroke="#000" stroke-width="1.5"/>
<text x="499.6" y="398.8" text-anchor="end" font-size="12.6">0</text>
<line x1="502.8" y1="367.75" x2="507" y2="367.75" stroke="#000" stroke-width="1.5"/>
<text x="499.6" y="371.95" text-anchor="end" font-size="12.6">20</text>
<line x1="502.8" y1="340.9" x2="507" y2="340.9" stroke="#000" stroke-width="1.5"/>
<text x="499.6" y="345.1" text-anchor="end" font-size="12.6">40</text>
<line x1="502.8" y1="314.05" x2="507" y2="314.05" stroke="#000" stroke-width="1.5"/>
<text x="499.6" y="318.25" text-anchor="end" font-size="12.6">60</text>
<line x1="502.8" y1="287.2" x2="507" y2="287.2" stroke="#000" stroke-width="1.5"/>
<text x="499.6" y="291.4" text-anchor="end" font-size="12.6">80</text>
<line x1="502.8" y1="260.35" x2="507" y2="260.35" stroke="#000" stroke-width="1.5"/>
<text x="499.6" y="264.55" text-anchor="end" font-size="12.6">100</text>
<line x1="507" y1="407.9" x2="507" y2="412.1" stroke="#000" stroke-width="1.5"/>
<text x="507" y="426" text-anchor="middle" font-size="12.6">0</text>
<line x1="541.68" y1="407.9" x2="541.68" y2="412.1" stroke="#000" stroke-width="1.5"/>
<text x="541.68" y="426" text-anchor="middle" font-size="12.6">1</text>
<line x1="576.36" y1="407.9" x2="576.36" y2="412.1" stroke="#000" stroke-width="1.5"/>
<text x="576.36" y="426" text-anchor="middle" font-size="12.6">2</text>
<line x1="611.04" y1="407.9" x2="611.04" y2="412.1" stroke="#000" stroke-width="1.5"/>
<text x="611.04" y="426" text-anchor="middle" font-size="12.6">3</text>
<line x1="645.72" y1="407.9" x2="645.72" y2="412.1" stroke="#000" stroke-width="1.5"/>
<text x="645.72" y="426" text-anchor="middle" font-size="12.6">4</text>
<line x1="680.4" y1="407.9" x2="680.4" y2="412.1" stroke="#000" stroke-width="1.5"/>
<text x="680.4" y="426" text-anchor="middle" font-size="12.6">5</text>
<text x="595" y="445.1" text-anchor="middle" font-size="13.72">Time (Days)</text>
<text transform="translate(479,327.9) rotate(-90)" text-anchor="middle" font-size="13.62">Relative activity (%)</text>
<line x1="637.8" y1="254.3" x2="653" y2="254.3" stroke="#111" stroke-width="1.4"/>
<line x1="637.8" y1="268.1" x2="653" y2="268.1" stroke="#ff1a1a" stroke-width="1.6"/>
<text x="655.8" y="258.8" font-size="11.3">30°C</text>
<text x="655.8" y="272.7" font-size="11.3">50°C</text></svg>
</body></html>
